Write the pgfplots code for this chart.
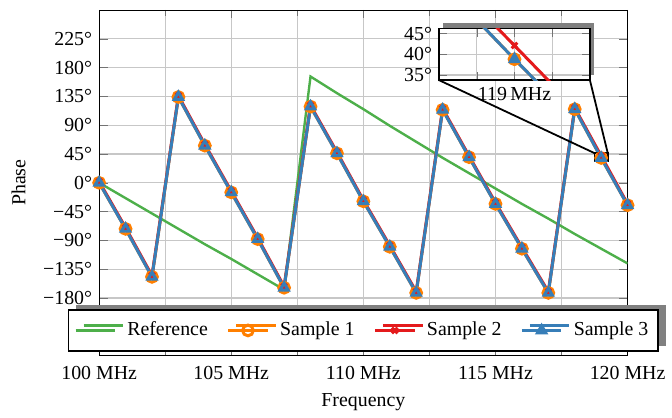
\documentclass[border=0pt]{standalone}
\usepackage{fontspec}
\setmainfont{Liberation Serif}
\usepackage{pgfplots}
\usepackage{pgfplotstable}
\pgfplotsset{compat=1.18}
\usetikzlibrary{shadows}

\definecolor{cref}{RGB}{77,175,74}
\definecolor{corange}{RGB}{255,127,0}
\definecolor{cred}{RGB}{228,26,28}
\definecolor{cblue}{RGB}{55,126,184}

% frequency in MHz, phase in degrees
\pgfplotstableread{
f   ref   s1    s2    s3
100 0     0     2     0
101 -24   -72   -70   -72
102 -48   -147  -145  -147
103 -72   134   136   134
104 -96   58    60    58
105 -119  -15   -13   -15
106 -143  -88   -86   -88
107 -167  -164  -162  -164
108 166   119   121   119
109 140   46    48    46
110 115   -29   -27   -29
111 89    -100  -98   -100
112 64    -172  -170  -172
113 39    114   116   114
114 15    40    42    40
115 -9    -33   -31   -33
116 -33   -103  -101  -103
117 -56   -172  -170  -172
118 -80   115   117   115
119 -103  38.8  42.1  38.8
120 -126  -35   -33   -35
}\phase

\pgfplotsset{
  s1style/.style={corange, line width=1.5pt, mark=o, mark size=2.7pt},
  s2style/.style={cred, line width=1.5pt, mark=x, mark size=2pt},
  s3style/.style={cblue, line width=1.5pt, mark=triangle, mark size=2.4pt},
}

\begin{document}
\begin{tikzpicture}
\begin{axis}[
  name=main,
  width=266pt, height=174pt, scale only axis,
  xmin=100, xmax=120, ymin=-270, ymax=270,
  xtick={100,105,...,120},
  xticklabels={100 MHz,105 MHz,110 MHz,115 MHz,120 MHz},
  xticklabel style={yshift=-2pt},
  minor x tick num=1,
  ytick={-180,-135,...,225},
  yticklabels={−180°,−135°,−90°,−45°,0°,45°,90°,135°,180°,225°},
  grid=both,
  major grid style={black!22, line width=0.6pt},
  minor grid style={black!22, line width=0.6pt},
  tick style={black!55},
  xlabel={Frequency}, ylabel={Phase},
  ylabel shift=2pt,
  legend columns=4,
  legend cell align=left,
  legend image code/.code={
    \draw[mark repeat=2,mark phase=2] plot coordinates {(0cm,0cm) (0.35cm,0cm) (0.7cm,0cm)};},
  legend style={at={(0.5,0.01)}, anchor=south, draw=black, line width=0.9pt,
    fill=white, inner xsep=3pt, inner ysep=4.2pt,
    drop shadow={shadow xshift=4pt, shadow yshift=2.5pt, fill=black!50, opacity=1},
    /tikz/every odd column/.append style={column sep=2pt},
    /tikz/every even column/.append style={column sep=7.5pt}},
]
\addplot[cref, line width=1.2pt] table[x=f, y=ref] {\phase};
\addlegendentry{\hspace{1.5pt}Reference}
\addplot[s1style] table[x=f, y=s1] {\phase};
\addlegendentry{\hspace{1.5pt}Sample 1}
\addplot[s2style] table[x=f, y=s2] {\phase};
\addlegendentry{\hspace{1.5pt}Sample 2}
\addplot[s3style] table[x=f, y=s3] {\phase};
\addlegendentry{\hspace{1.5pt}Sample 3}

\coordinate (insetSW) at (rel axis cs:0.643,0.797);
\coordinate (boxNW) at (axis cs:118.75,46.25);
\coordinate (boxNE) at (axis cs:119.25,46.25);
\draw[line width=0.9pt] (axis cs:118.75,33.75) rectangle (axis cs:119.25,46.25);
\end{axis}

\begin{axis}[
  name=inset,
  at={(insetSW)}, anchor=south west,
  width=76pt, height=26pt, scale only axis,
  xmin=118.75, xmax=119.25, ymin=33.75, ymax=46.25,
  xtick={118.875,119,119.125}, xticklabels={,119\,MHz,},
  ytick={35,40,45}, yticklabels={35°,40°,45°},
  grid=major,
  major grid style={black!22, line width=0.6pt},
  tick style={black!55},
  axis line style={line width=0.9pt},
  axis background/.style={fill=white,
    drop shadow={shadow xshift=2pt, shadow yshift=2.5pt, fill=black!50, opacity=1}},
]
\addplot[s1style] table[x=f, y=s1] {\phase};
\addplot[s2style] table[x=f, y=s2] {\phase};
\addplot[s3style] table[x=f, y=s3] {\phase};
\end{axis}

\draw[line width=0.9pt] (inset.south west) -- (boxNW);
\draw[line width=0.9pt] (inset.south east) -- (boxNE);

% margins as in the reference
\path ([yshift=5pt]main.north);
\path ([xshift=-2.5pt]current bounding box.west);
\end{tikzpicture}
\end{document}
